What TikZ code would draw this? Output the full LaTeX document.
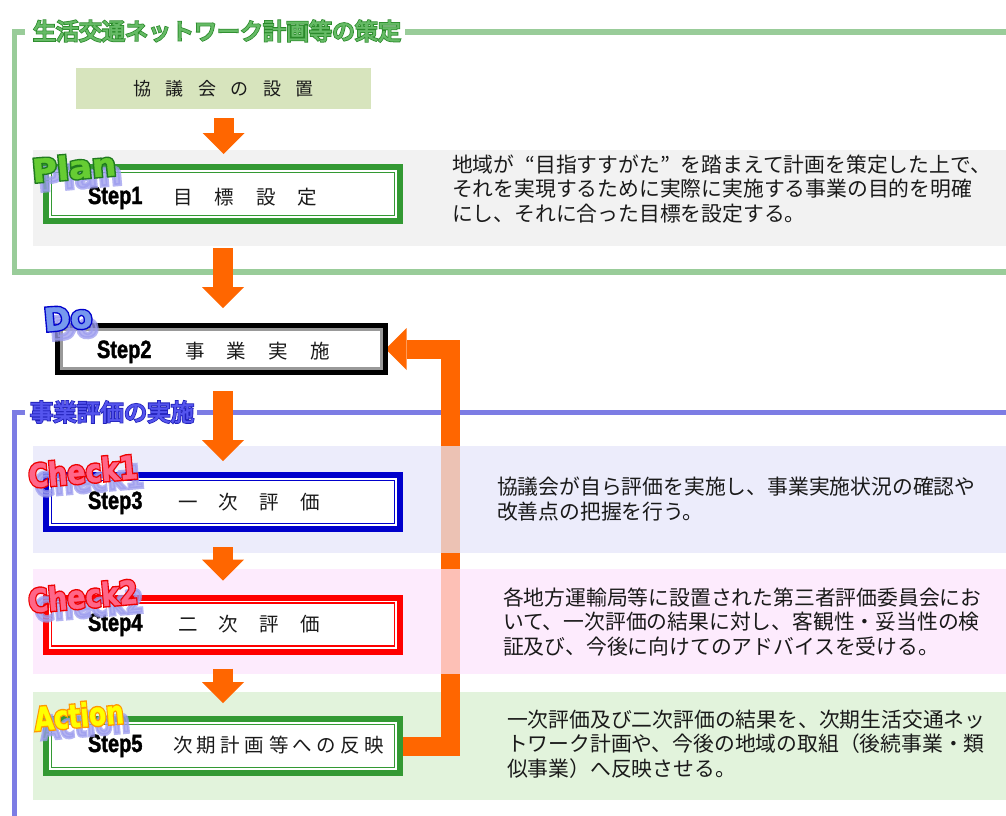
\documentclass[tikz,border=0pt]{standalone}
\usepackage{fontspec}
\usetikzlibrary{arrows.meta,calc}
\newfontfamily\jp{Noto Sans CJK JP}
\newfontfamily\jpo{Noto Sans CJK JP}[FakeBold=9]
\newfontfamily\jpf{Noto Sans CJK JP}[FakeBold=2]
\newfontfamily\stepf{Liberation Sans}[FakeStretch=0.8,FakeBold=1.5]
\newfontfamily\lblf{DejaVu Sans}[FakeBold=1]
\newfontfamily\lblo{DejaVu Sans}[FakeBold=10]
\definecolor{frameg}{HTML}{99CC99}
\definecolor{frameb}{HTML}{7C7CE4}
\definecolor{arr}{HTML}{FF6600}
\definecolor{boxg}{HTML}{339933}
\definecolor{boxb}{HTML}{0000CC}
\definecolor{boxr}{HTML}{FF0000}
\definecolor{council}{HTML}{D7E4BD}
\definecolor{pplan}{HTML}{F2F2F2}
\definecolor{pcheckA}{HTML}{E6E6FA}
\definecolor{pcheckB}{HTML}{FDE4FD}
\definecolor{paction}{HTML}{E2F3DC}
\definecolor{txt}{HTML}{1A1A1A}
\definecolor{shad}{HTML}{9C9CEE}
\definecolor{tgo}{HTML}{2A8A2A}
\definecolor{tgf}{HTML}{66BB66}
\definecolor{tbo}{HTML}{2222BB}
\definecolor{tbf}{HTML}{5555EE}
\definecolor{plf}{HTML}{66CC33}
\definecolor{plo}{HTML}{1F7A1F}
\definecolor{dof}{HTML}{7799EE}
\definecolor{doo}{HTML}{0000CC}
\definecolor{chf}{HTML}{FF6688}
\definecolor{cho}{HTML}{EE0000}
\definecolor{acf}{HTML}{FFFF00}
\definecolor{aco}{HTML}{FF9900}
\pgfdeclarelayer{bg}
\pgfdeclarelayer{mid}
\pgfsetlayers{bg,mid,main}
\newcommand\mylbl[7]{%
 \node[rotate=5, text=shad, text opacity=0.75] (#1s) at (#2+6,#3+9) {\lblo\bfseries\fontsize{32}{32}\selectfont\scalebox{#7}[1]{#4}};
 \node[rotate=5, text=#6] (#1o) at (#2,#3) {\lblo\bfseries\fontsize{32}{32}\selectfont\scalebox{#7}[1]{#4}};
 \node[rotate=5, text=#5] (#1) at (#2,#3) {\lblf\bfseries\fontsize{32}{32}\selectfont\scalebox{#7}[1]{#4}};}
\begin{document}
\begin{tikzpicture}[x=1pt,y=-1pt,
 every node/.style={inner sep=0pt,outer sep=0pt},
 stepbox/.style={draw=#1, line width=6pt, fill=white, minimum width=354pt, minimum height=54pt,
   path picture={\draw[#1,line width=1.6pt] ($(path picture bounding box.south west)+(5.5pt,5.5pt)$) rectangle ($(path picture bounding box.north east)+(-5.5pt,-5.5pt)$);}},
 steplbl/.style={anchor=base west, font=\stepf\bfseries\fontsize{25}{25}\selectfont},
 stepjp/.style={anchor=base west, text=txt, font=\jp\fontsize{19.5}{19.5}\selectfont},
 desc/.style={anchor=west, align=left, text=txt, font=\jp\fontsize{20.8}{24.5}\selectfont},
 downarr/.style={draw=arr, line width=20pt, -{Triangle[width=42pt,length=21pt,line width=0pt]}},
 ]
\useasboundingbox (0,0) rectangle (1006,816);

% ---------- background layer: frames and panels
\begin{pgfonlayer}{bg}
\fill[white] (0,0) rectangle (1006,816);
\draw[frameg, line width=5.5pt] (25,32) -- (14.5,32) -- (14.5,272) -- (1006,272);
\draw[frameg, line width=5.5pt] (405,32) -- (1006,32);
\draw[frameb, line width=5pt] (25,412) -- (14.5,412) -- (14.5,816);
\draw[frameb, line width=5pt] (197,412) -- (1006,412);
\fill[pplan] (33,150) rectangle (1006,246);
\fill[paction] (33,692) rectangle (1006,800);
\end{pgfonlayer}
\begin{pgfonlayer}{mid}
\fill[pcheckA, fill opacity=0.72] (33,446) rectangle (1006,553);
\fill[pcheckB, fill opacity=0.72] (33,569) rectangle (1006,674);
\end{pgfonlayer}

% ---------- section titles
\node[text=tgo, font=\jpo\fontsize{23}{23}\selectfont] (t1o) at (217,31) {生活交通ネットワーク計画等の策定};
\node[text=tgf, font=\jpf\fontsize{23}{23}\selectfont] (t1) at (217,31) {生活交通ネットワーク計画等の策定};
\node[text=tbo, font=\jpo\fontsize{23.5}{23.5}\selectfont] (t2o) at (112,412) {事業評価の実施};
\node[text=tbf, font=\jpf\fontsize{23.5}{23.5}\selectfont] (t2) at (112,412) {事業評価の実施};

% ---------- council
\node[fill=council, minimum width=295pt, minimum height=41pt, text=txt, font=\jp\fontsize{18}{18}\selectfont] (council) at (223.5,88.5)
  {協\hspace{14.5pt}議\hspace{14.5pt}会\hspace{14.5pt}の\hspace{14.5pt}設\hspace{14.5pt}置};

% ---------- step boxes
\node[stepbox=boxg] (step1) at (223,194) {};
\node[draw=black, line width=5pt, fill=white, minimum width=328pt, minimum height=47pt,
  path picture={\draw[gray!80, line width=2.5pt] ($(path picture bounding box.south west)+(4pt,4pt)$) rectangle ($(path picture bounding box.north east)+(-4pt,-4pt)$);}] (step2) at (221.5,349) {};
\node[stepbox=boxb] (step3) at (223,502) {};
\node[stepbox=boxr] (step4) at (223,624.5) {};
\node[stepbox=boxg] (step5) at (223,746) {};

\node[steplbl] (s1a) at (88,204) {Step1};
\node[stepjp] (s1b) at (173.5,204) {目\hspace{21.8pt}標\hspace{21.8pt}設\hspace{21.8pt}定};
\node[steplbl] (s2a) at (97,358) {Step2};
\node[stepjp] (s2b) at (185,358) {事\hspace{22.2pt}業\hspace{22.2pt}実\hspace{22.2pt}施};
\node[steplbl] (s3a) at (88,509) {Step3};
\node[stepjp] (s3b) at (178,509) {一\hspace{21.5pt}次\hspace{21.5pt}評\hspace{21.5pt}価};
\node[steplbl] (s4a) at (88,631) {Step4};
\node[stepjp] (s4b) at (178,631) {二\hspace{21.5pt}次\hspace{21.5pt}評\hspace{21.5pt}価};
\node[steplbl] (s5a) at (88,752) {Step5};
\node[stepjp] (s5b) at (173,752) {次\hspace{4.5pt}期\hspace{4.5pt}計\hspace{4.5pt}画\hspace{4.5pt}等\hspace{4.5pt}へ\hspace{4.5pt}の\hspace{4.5pt}反\hspace{4.5pt}映};

% ---------- descriptions
\node[desc] (d1) at (452,189) {地域が\hspace{11pt}“目指すすがた”\hspace{11pt}を踏まえて計画を策定した上で、\\それを実現するために実際に実施する事業の目的を明確\\にし、それに合った目標を設定する。};
\node[desc] (d3) at (497,499) {協議会が自ら評価を実施し、事業実施状況の確認や\\改善点の把握を行う。};
\node[desc] (d4) at (503,622) {各地方運輸局等に設置された第三者評価委員会にお\\いて、一次評価の結果に対し、客観性・妥当性の検\\証及び、今後に向けてのアドバイスを受ける。};
\node[desc] (d5) at (507,744) {一次評価及び二次評価の結果を、次期生活交通ネッ\\トワーク計画や、今後の地域の取組（後続事業・類\\似事業）へ反映させる。};

% ---------- labels
\mylbl{lplan}{74}{167}{Plan}{plf}{plo}{1.07}
\mylbl{ldo}{68}{318}{Do}{dof}{doo}{1.0}
\mylbl{lck1}{83}{471}{Check1}{chf}{cho}{0.84}
\mylbl{lck2}{83}{596}{Check2}{chf}{cho}{0.84}
\mylbl{lact}{79}{715}{Action}{acf}{aco}{0.78}

% ---------- arrows
\coordinate (loopc) at (450,600);
\begin{pgfonlayer}{bg}
\draw[draw=arr, line width=19pt, -{Triangle[width=42pt,length=21pt,line width=0pt]}] (step5.east) -| (loopc) |- (step2.east);
\end{pgfonlayer}
\draw[downarr, shorten <=9pt, shorten >=13pt] (council.south) -- (council.south |- step1.north);
\draw[downarr, shorten <=27pt, shorten >=17.5pt] (step1.south) -- (step1.south |- step2.north);
\draw[downarr, shorten <=18.5pt, shorten >=14pt] (step3.north |- step2.south) -- (step3.north);
\draw[downarr, shorten <=18pt, shorten >=17pt] (step3.south) -- (step4.north);
\draw[downarr, shorten <=17pt, shorten >=16pt] (step4.south) -- (step5.north);
\end{tikzpicture}
\end{document}
